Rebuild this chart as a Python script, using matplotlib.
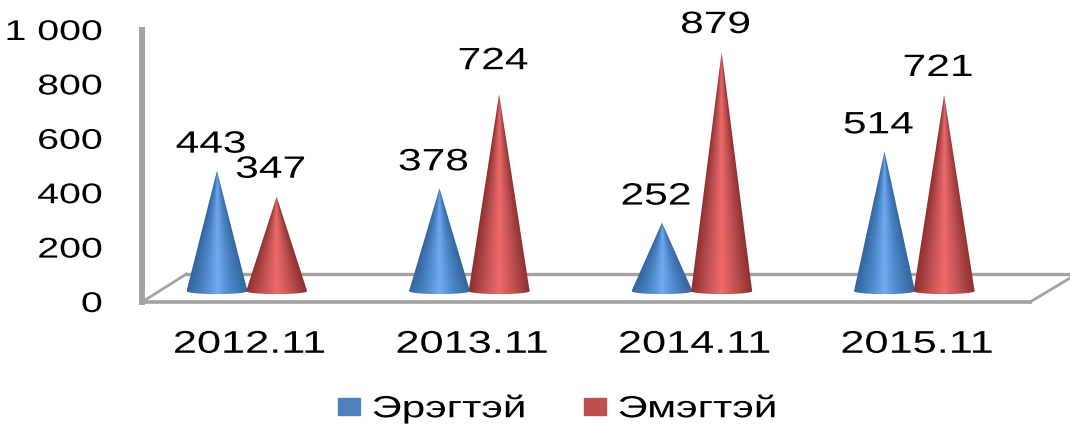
import matplotlib
matplotlib.use("Agg")
import matplotlib.pyplot as plt
import matplotlib.patheffects as pe
import numpy as np
from matplotlib.colors import LinearSegmentedColormap
from matplotlib.patches import Patch
from matplotlib.path import Path
from matplotlib.transforms import Affine2D

plt.rcParams['font.family'] = ['Liberation Sans', 'DejaVu Sans']

years = ["2012.11", "2013.11", "2014.11", "2015.11"]
men = [443, 378, 252, 514]
women = [347, 724, 879, 721]
men_name = "Эрэгтэй"
women_name = "Эмэгтэй"
yticks = [0, 200, 400, 600, 800, 1000]
ylabels = ["0", "200", "400", "600", "800", "1 000"]

W, H = 1070, 424
GRAY = "#a3a3a3"
STRETCH = 1.38   # the whole original picture is pulled sideways
depth = 40       # cones stand on the floor, a bit behind the front edge
floor_back = 103
floor_dx = 0.2


class Wide(pe.AbstractPathEffect):
    # real text, just scaled in x around one of its edges
    def __init__(self, about="center"):
        super().__init__()
        self.about = about

    def draw_path(self, renderer, gc, tpath, affine, rgbFace=None):
        box = tpath.get_extents(affine)
        x0 = {"left": box.x0, "right": box.x1, "center": (box.x0 + box.x1) / 2}[self.about]
        t = affine + Affine2D().translate(-x0, 0).scale(STRETCH, 1).translate(x0, 0)
        renderer.draw_path(gc, tpath, t, rgbFace)


fig = plt.figure(figsize=(W / 100, H / 100), dpi=100)
left, right, bottom, top = 142, 1030, 302, 30
ax = fig.add_axes([left / W, 1 - bottom / H, (right - left) / W, (bottom - top) / H])

# category i sits at pixel 249.5 + 222.5 * i
xlim = ((left - 249.5) / 222.5, (right - 249.5) / 222.5)

blues = LinearSegmentedColormap.from_list("b", ["#34659e", "#4a82c4", "#70aaf0", "#4a82c4", "#34659e"])
reds = LinearSegmentedColormap.from_list("r", ["#8f3030", "#bd5050", "#f06a6a", "#bd5050", "#8f3030"])
half = 0.137

# shading wraps round the cone, so the bands narrow towards the tip
rows, cols = np.mgrid[0:1:300j, -1:1:128j]
shade = np.clip(cols / np.maximum(1 - rows, 0.02), -1, 1) / 2 + 0.5


def cone(cx, v, cmap, z):
    ang = np.linspace(np.pi, 2 * np.pi, 24)
    xs = cx + half * np.cos(ang)
    ys = depth + 11 * np.sin(ang)
    verts = [(cx, depth + v)] + list(zip(xs, ys)) + [(cx, depth + v)]
    codes = [Path.MOVETO] + [Path.LINETO] * (len(verts) - 2) + [Path.CLOSEPOLY]
    im = ax.imshow(shade, cmap=cmap, extent=[cx - half, cx + half, depth, depth + v], origin="lower",
                   aspect="auto", zorder=z, interpolation="bilinear")
    under = ax.imshow(shade[:1], cmap=cmap, extent=[cx - half, cx + half, depth - 12, depth],
                      aspect="auto", zorder=z, interpolation="bilinear")
    im.set_clip_path(Path(verts, codes), transform=ax.transData)
    under.set_clip_path(Path(verts, codes), transform=ax.transData)


for i in range(len(years)):
    cone(i - 0.146, men[i], blues, 3)
    cone(i + 0.122, women[i], reds, 4)

ax.set_xlim(*xlim)
ax.set_ylim(0, 1000)

# floor of the fake 3d box
ax.plot([xlim[0], xlim[0] + floor_dx], [0, floor_back], color=GRAY, lw=2, clip_on=False, zorder=2)
ax.plot([xlim[1], xlim[1] + 0.18], [0, 88], color=GRAY, lw=2, clip_on=False, zorder=2)
ax.plot([xlim[0] + floor_dx, xlim[1] + 0.18], [floor_back, floor_back], color=GRAY, lw=2.4,
        clip_on=False, zorder=2)

for s in ["top", "right"]:
    ax.spines[s].set_visible(False)
ax.spines["left"].set_color(GRAY)
ax.spines["left"].set_linewidth(4.3)
ax.spines["bottom"].set_color(GRAY)
ax.spines["bottom"].set_linewidth(2.6)

ax.set_xticks(range(len(years)))
ax.set_xticklabels(years, fontsize=22.6)
ax.set_yticks(yticks)
ax.set_yticklabels(ylabels, fontsize=20.5)
ax.tick_params(axis="x", length=0, pad=20)
ax.tick_params(axis="y", length=0, pad=28.5)
for t in ax.get_xticklabels():
    t.set_path_effects([Wide("center")])
for t in ax.get_yticklabels():
    t.set_path_effects([Wide("right")])

for i in range(len(years)):
    ax.annotate(str(men[i]), (i - 0.146, depth + men[i]), xytext=(-6, 26), textcoords="offset pixels",
                ha="center", va="center", fontsize=22.2, path_effects=[Wide("center")], annotation_clip=False)
    lift = 33 if women[i] == 724 else 27
    ax.annotate(str(women[i]), (i + 0.122, depth + women[i]), xytext=(-6, lift), textcoords="offset pixels",
                ha="center", va="center", fontsize=22.2, path_effects=[Wide("center")], annotation_clip=False)

handles = [Patch(color="#4f81bd", label=men_name), Patch(color="#c0504d", label=women_name)]
leg = fig.legend(handles=handles, ncols=2, frameon=False, fontsize=22, loc="center left",
                 bbox_to_anchor=(332 / W, 1 - 409 / H), handlelength=0.72, handleheight=0.52,
                 handletextpad=0.39, columnspacing=3.28, borderpad=0.2, borderaxespad=0)
for t in leg.get_texts():
    t.set_path_effects([Wide("left")])

fig.savefig("out.png", dpi=100, facecolor="white")
